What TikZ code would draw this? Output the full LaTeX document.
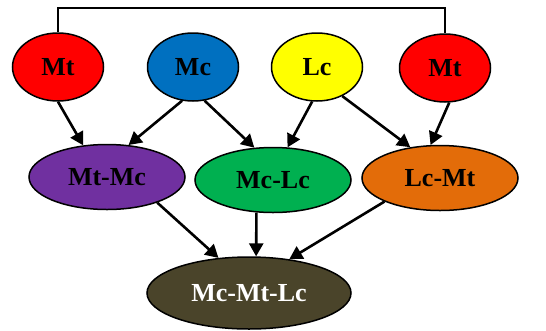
\documentclass[tikz,border=0pt]{standalone}
\usepackage{fontspec}
\setmainfont{Liberation Serif}
\usetikzlibrary{shapes.geometric,arrows.meta}
\definecolor{cred}{HTML}{FF0000}
\definecolor{cblue}{HTML}{0070C0}
\definecolor{cyellow}{HTML}{FFFF00}
\definecolor{cpurple}{HTML}{7030A0}
\definecolor{cgreen}{HTML}{00B050}
\definecolor{corange}{HTML}{E36C09}
\definecolor{cdark}{HTML}{4A442A}
\tikzset{
  ell/.style={ellipse, draw=black, line width=1.5pt, inner sep=0pt, font=\fontsize{26}{28}\selectfont\bfseries},
  topell/.style={ell, minimum width=91pt, minimum height=68pt},
  midell/.style={ell, minimum width=156pt, minimum height=65pt},
  arr/.style={line width=2.6pt, -{Triangle[length=13pt,width=14pt]}},
}
\begin{document}
\begin{tikzpicture}[x=1pt,y=-1pt]
\useasboundingbox (0,0) rectangle (546,330);
\node[topell, fill=cred] (mt1) at (58,67) {Mt};
\node[topell, fill=cblue] (mc) at (193,67) {Mc};
\node[topell, fill=cyellow] (lc) at (317,67) {Lc};
\node[topell, fill=cred] (mt2) at (445,68) {Mt};
\node[midell, fill=cpurple] (mtmc) at (107,177) {Mt-Mc};
\node[midell, fill=cgreen] (mclc) at (273,180) {Mc-Lc};
\node[midell, fill=corange] (lcmt) at (440,178) {Lc-Mt};
\node[ell, fill=cdark, text=white, minimum width=204pt, minimum height=72pt] (all) at (249,293) {Mc-Mt-Lc};
\coordinate (tl) at (58,8);
\coordinate (tr) at (445,8);
\draw[line width=1.4pt] (mt1.north) -- (tl) -- (tr) -- (mt2.north);
\draw[arr] (mt1.270) -- (mtmc.127);
\draw[arr] (mc.252) -- (mtmc.56);
\draw[arr] (mc.289) -- (mclc.120);
\draw[arr] (lc.262) -- (mclc.66);
\draw[arr] (lc.311) -- (lcmt.134);
\draw[arr] (mt2.277) -- (lcmt.106);
\draw[arr] (mtmc.333) -- (all.131);
\draw[arr] (mclc.243) -- (all.79);
\draw[arr] (lcmt.203) -- (all.40);
\end{tikzpicture}
\end{document}
